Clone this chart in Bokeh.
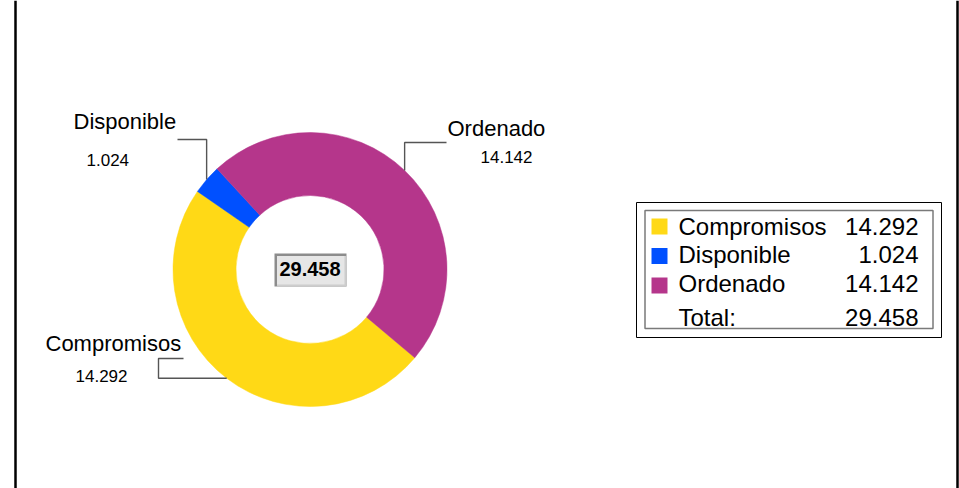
import math
from bokeh.plotting import figure
from bokeh.models import Range1d, ColumnDataSource
from bokeh.core.properties import value
from bokeh.embed import file_html
from bokeh.resources import INLINE

# ---------------- data ----------------
categories = ["Compromisos", "Disponible", "Ordenado"]
values = [14.292, 1.024, 14.142]
colors = ["#FFD916", "#0050FF", "#B5368B"]
total_caption = "Total:"

def fmt(v):
    return "{:.3f}".format(v)

total = sum(values)
value_labels = [fmt(v) for v in values]
total_label = fmt(total)

# ---------------- layout ----------------
W, H = 959, 488
FONT = value("Liberation Sans")
K = 0.38  # empirical baseline correction (fraction of font size)


def Y(sy):
    # screen y (pixels from top) -> data y
    return H - sy


def TY(baseline, fs):
    # screen baseline -> data y for an "alphabetic" text of size fs
    return Y(baseline - K * fs)


p = figure(width=W, height=H, x_range=Range1d(0, W), y_range=Range1d(0, H),
           output_backend="svg", toolbar_location=None,
           x_axis_location=None, y_axis_location=None,
           min_border=0, outline_line_color=None)
p.grid.visible = False
p.background_fill_color = "white"
p.border_fill_color = "white"

# outer frame (left / right borders)
p.segment(x0=[15, 957], y0=[Y(0), Y(0)], x1=[15, 957], y1=[Y(488), Y(488)],
          line_color="black", line_width=2.5)

# ---------------- donut ----------------
cx, cy = 309.5, Y(269)
R_OUT, R_IN = 137, 74
start_deg = -40.1

starts, ends, mids = [], [], []
acc = 0.0
for v in values:
    a0 = math.radians(start_deg) - acc / total * 2 * math.pi
    acc += v
    a1 = math.radians(start_deg) - acc / total * 2 * math.pi
    starts.append(a0)
    ends.append(a1)
    mids.append((a0 + a1) / 2)

src = ColumnDataSource(dict(start=starts, end=ends, color=colors))
p.annular_wedge(x=cx, y=cy, inner_radius=R_IN, outer_radius=R_OUT,
                start_angle="start", end_angle="end", direction="clock",
                fill_color="color", line_color="color", line_width=0.5, source=src)

# leader lines from slice mid-points to labels
anchors = [(cx + R_OUT * math.cos(m), cy + R_OUT * math.sin(m)) for m in mids]
routes_x, routes_y = [], []
# Compromisos
ax, ay = anchors[0]
routes_x.append([ax, 158, 158, 183])
routes_y.append([ay, ay, Y(358), Y(358)])
# Disponible
ax, ay = anchors[1]
routes_x.append([ax, ax, 177])
routes_y.append([ay, Y(139), Y(139)])
# Ordenado
ax, ay = anchors[2]
routes_x.append([ax, ax, 446])
routes_y.append([ay, Y(142), Y(142)])
p.multi_line(xs=routes_x, ys=routes_y, line_color="#555555", line_width=1.4)

# slice labels
name_x = [45, 73, 447]
name_b = [351, 129, 136]
val_x = [75, 86, 480]
val_b = [382, 166, 163]
p.text(x=name_x, y=[TY(b, 22) for b in name_b], text=categories, text_font=FONT,
       text_font_size="22px", text_color="black", text_align="left", text_baseline="alphabetic")
p.text(x=val_x, y=[TY(b, 17) for b in val_b], text=value_labels, text_font=FONT,
       text_font_size="17px", text_color="black", text_align="left", text_baseline="alphabetic")

# centre total box (bevelled)
p.quad(left=[274], right=[346], top=[Y(253)], bottom=[Y(286)], fill_color="#8c8c8c", line_color=None)
p.quad(left=[276.5], right=[346], top=[Y(255.5)], bottom=[Y(286)], fill_color="#cdcdcd", line_color=None)
p.quad(left=[276.5], right=[344], top=[Y(255.5)], bottom=[Y(284)], fill_color="#e6e6e6", line_color=None)
p.text(x=[309.5], y=[TY(276, 20)], text=[total_label], text_font=FONT, text_font_size="20px",
       text_font_style="bold", text_color="black", text_align="center", text_baseline="alphabetic")

# ---------------- legend ----------------
p.quad(left=[636], right=[941], top=[Y(202)], bottom=[Y(337)], fill_color=None,
       line_color="black", line_width=1)
p.quad(left=[644.5], right=[932.5], top=[Y(210)], bottom=[Y(328)], fill_color=None,
       line_color="#7a7a7a", line_width=1.5)

row_base = [235, 263.5, 292.3]
sq_center = [226, 255.5, 285]
p.rect(x=[659] * 3, y=[Y(s) for s in sq_center], width=16, height=16,
       fill_color=colors, line_color=None)
p.text(x=[678] * 3, y=[TY(b, 24) for b in row_base], text=categories, text_font=FONT,
       text_font_size="24px", text_color="black", text_align="left", text_baseline="alphabetic")
p.text(x=[918] * 3, y=[TY(b, 24) for b in row_base], text=value_labels, text_font=FONT,
       text_font_size="24px", text_color="black", text_align="right", text_baseline="alphabetic")
p.text(x=[678], y=[TY(326, 24)], text=[total_caption], text_font=FONT,
       text_font_size="24px", text_color="black", text_align="left", text_baseline="alphabetic")
p.text(x=[918], y=[TY(326, 24)], text=[total_label], text_font=FONT,
       text_font_size="24px", text_color="black", text_align="right", text_baseline="alphabetic")

open("out.html", "w").write(file_html(p, INLINE))
